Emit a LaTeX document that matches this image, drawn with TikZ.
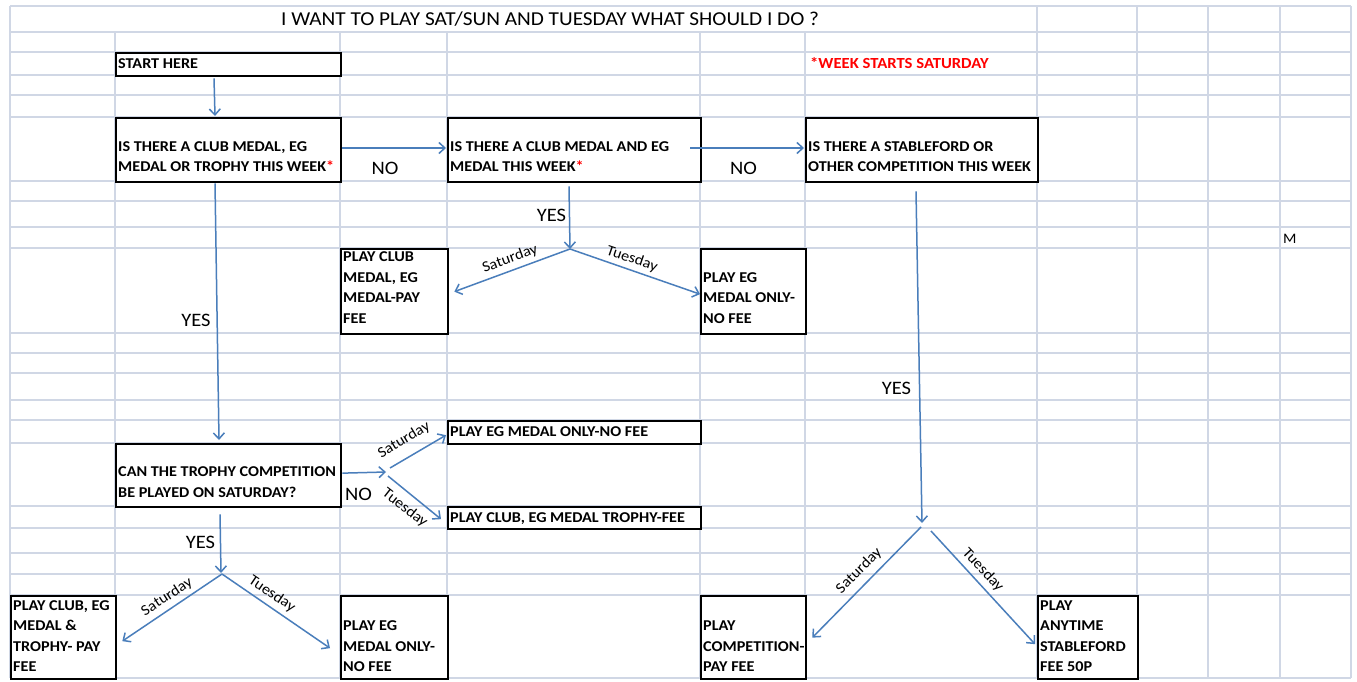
\documentclass[tikz,border=0pt]{standalone}
\usepackage{fontspec}
\setmainfont{Carlito}[FakeStretch=1.08]
\usetikzlibrary{arrows.meta,calc}
\definecolor{gridc}{HTML}{D0D7E5}
\definecolor{arr}{HTML}{4A7EBB}
\newcommand{\lns}[1]{\begin{tabular}[b]{@{}l@{}}#1\end{tabular}}
\tikzset{
  gridl/.style={draw=gridc, line width=1.3pt},
  flowbox/.style={draw=black, line width=2.3pt, fill=white, inner sep=0pt, anchor=north west},
  btxt/.style={anchor=base west, inner sep=0pt, font=\fontsize{15}{20.5}\selectfont\bfseries},
  conn/.style={draw=arr, line width=1.5pt, -{Straight Barb[length=6pt,width=11pt,line width=1.5pt]}},
  arrline/.style={draw=arr, line width=1.5pt},
  yn/.style={inner sep=0pt, font=\fontsize{19}{20}\selectfont},
  daylbl/.style={inner sep=0pt, font=\fontsize{15}{18}\selectfont},
}
\begin{document}
\begin{tikzpicture}[x=1pt,y=-1pt]
\useasboundingbox (0,0) rectangle (1357,682);
\fill[white] (0,0) rectangle (1357,682);
% grid
\foreach \yy in {6,32,52,75,95,117,181,201,227,248,333,353,373,400,420,443,506,528,553,574,595,678}
  \draw[gridl] (10,\yy) -- (1351,\yy);
\foreach \xx in {115,340,447,700,805}
  \draw[gridl] (\xx,32) -- (\xx,678);
\foreach \xx in {10,1037,1137,1208,1280,1351}
  \draw[gridl] (\xx,6) -- (\xx,678);

% title and notes
\node[anchor=base west, inner sep=0pt, font=\fontsize{19.7}{22}\selectfont] (title) at (281,26)
  {I WANT TO PLAY SAT/SUN AND TUESDAY WHAT SHOULD I DO ?};
\node[anchor=base west, inner sep=0pt, font=\fontsize{15.4}{18}\selectfont\bfseries, text=red] (note) at (810,68.3)
  {*WEEK STARTS SATURDAY};
\node[anchor=base west, inner sep=0pt, font=\fontsize{14.5}{18}\selectfont] (mm) at (1283,243.3) {M};

% boxes
\node[flowbox, minimum width=225pt, minimum height=23pt] (start) at (115,52) {};
\node[flowbox, minimum width=225pt, minimum height=64pt] (q1) at (115,117) {};
\node[flowbox, minimum width=253pt, minimum height=64pt] (q2) at (447,117) {};
\node[flowbox, minimum width=232pt, minimum height=64pt] (q3) at (805,117) {};
\node[flowbox, minimum width=107pt, minimum height=85pt] (r1) at (340,248) {};
\node[flowbox, minimum width=105pt, minimum height=85pt] (r2) at (700,248) {};
\node[flowbox, minimum width=225pt, minimum height=63pt] (q4) at (115,443) {};
\node[flowbox, minimum width=253pt, minimum height=23pt] (r3) at (447,420) {};
\node[flowbox, minimum width=253pt, minimum height=22pt] (r4) at (447,506) {};
\node[flowbox, minimum width=105pt, minimum height=83pt] (r5) at (10,595) {};
\node[flowbox, minimum width=107pt, minimum height=83pt] (r6) at (340,595) {};
\node[flowbox, minimum width=105pt, minimum height=83pt] (r7) at (700,595) {};
\node[flowbox, minimum width=100pt, minimum height=83pt] (r8) at (1037,595) {};

% box texts
\node[btxt] (startt) at (118,68.7) {START HERE};
\node[btxt] (q1t) at (118,171.5) {\lns{IS THERE A CLUB MEDAL, EG\\MEDAL OR TROPHY THIS WEEK\textcolor{red}{*}}};
\node[btxt] (q2t) at (450,171.5) {\lns{IS THERE A CLUB MEDAL AND EG\\MEDAL THIS WEEK\textcolor{red}{*}}};
\node[btxt] (q3t) at (808,171.5) {\lns{IS THERE A STABLEFORD OR\\OTHER COMPETITION THIS WEEK}};
\node[btxt] (r1t) at (343,323.3) {\lns{PLAY CLUB\\MEDAL, EG\\MEDAL-PAY\\FEE}};
\node[btxt] (r2t) at (703,323.3) {\lns{PLAY EG\\MEDAL ONLY-\\NO FEE}};
\node[btxt] (q4t) at (118,497.3) {\lns{CAN THE TROPHY COMPETITION\\BE PLAYED ON SATURDAY?}};
\node[btxt] (r3t) at (450,436.7) {PLAY EG MEDAL ONLY-NO FEE};
\node[btxt] (r4t) at (450,522.3) {PLAY CLUB, EG MEDAL TROPHY-FEE};
\node[btxt] (r5t) at (13,671.7) {\lns{PLAY CLUB, EG\\MEDAL \&\\TROPHY- PAY\\FEE}};
\node[btxt] (r6t) at (343,671.7) {\lns{PLAY EG\\MEDAL ONLY-\\NO FEE}};
\node[btxt] (r7t) at (703,671.7) {\lns{PLAY\\COMPETITION-\\PAY FEE}};
\node[btxt] (r8t) at (1040,671.7) {\lns{PLAY\\ANYTIME\\STABLEFORD\\FEE 50P}};

% fork points
\coordinate (f2) at (570,249);
\coordinate (f3) at (922,523);
\coordinate (f4n) at (386,472);
\coordinate (f4y) at (221,573);

% connectors
\draw[conn] ($(start.south west)+(99,1)$) -- ($(q1.north west)+(100,-1)$);
\draw[conn] ($(q1.north east)+(0,31)$) -- ($(q2.north west)+(-1,31)$);
\draw[conn] ($(q2.north east)+(-12,31)$) -- ($(q3.north west)+(-1,31)$);
\draw[conn] ($(q1.south west)+(100,0)$) -- ($(q4.north west)+(104,-3)$);

\draw[conn] ($(q2.south west)+(122,3)$) -- (f2);
\draw[conn] (f2) -- ($(r1.east)+(5,0)$);
\draw[conn] (f2) -- ($(r2.west)+(0,2.5)$);

\draw[conn] ($(q3.south west)+(111,8)$) -- (f3);
\draw[conn] ($(f3)+(-1,4)$) -- ($(r7.east)+(5,0)$);
\draw[conn] ($(f3)+(9,8)$) -- ($(r8.west)+(-2,6.5)$);

\draw[conn] ($(q4.east)+(0,-2.5)$) -- (f4n);
\draw[conn] ($(f4n)+(4,-4)$) -- ($(r3.west)+(-1,2.5)$);
\draw[conn] ($(f4n)+(2,4)$) -- ($(r4.west)+(-6,1)$);

\draw[conn] ($(q4.south west)+(105,6)$) -- (f4y);
\draw[conn] ($(f4y)+(1,1)$) -- ($(r5.east)+(5,3.5)$);
\draw[conn] ($(f4y)+(1,1)$) -- ($(r6.west)+(-10,10.5)$);

% yes / no labels
\node[yn] (no1) at (385,168) {NO};
\node[yn] (no2) at (743.5,168) {NO};
\node[yn] (yes2) at (551.5,215) {YES};
\node[yn] (yes1) at (196,320) {YES};
\node[yn] (yes3) at (896.5,388.5) {YES};
\node[yn] (no4) at (358.5,494) {NO};
\node[yn] (yes4) at (200.5,542) {YES};

% day labels
\node[daylbl, rotate=20] (s2) at (510,259) {Saturday};
\node[daylbl, rotate=-19] (t2) at (632,259) {Tuesday};
\node[daylbl, rotate=31] (s4n) at (404,440) {Saturday};
\node[daylbl, rotate=-38] (t4n) at (405,508) {Tuesday};
\node[daylbl, rotate=33] (s4y) at (167,597) {Saturday};
\node[daylbl, rotate=-34] (t4y) at (272,594) {Tuesday};
\node[daylbl, rotate=45] (s3) at (859,571) {Saturday};
\node[daylbl, rotate=-47] (t3) at (983,570) {Tuesday};
\end{tikzpicture}
\end{document}
